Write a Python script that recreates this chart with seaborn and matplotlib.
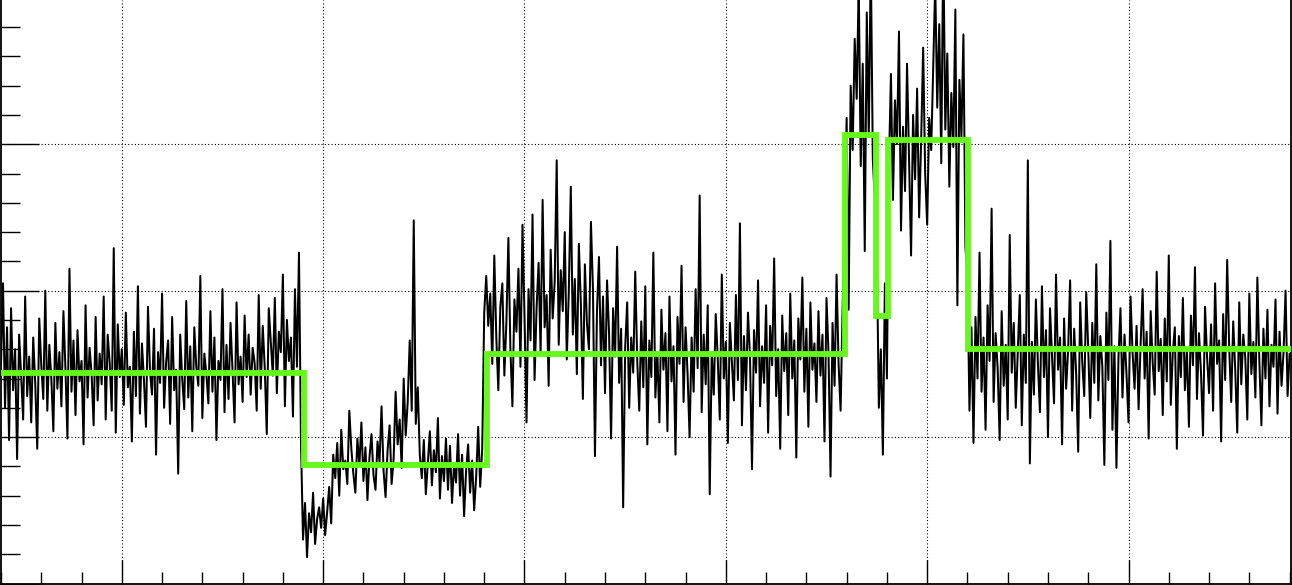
import numpy as np
import matplotlib
matplotlib.use("Agg")
import matplotlib.pyplot as plt
from matplotlib.ticker import MultipleLocator, NullFormatter
import seaborn as sns

# noisy trace, one value per bin, split by the segments of the step fit
seg_a = [150, 205, 120, 175, 98, 188, 132, 160, 85, 170, 142, 112, 196, 128, 155,
         110, 168, 137, 92, 181, 149, 126, 200, 118, 163, 140, 104, 178, 133, 158,
         121, 186, 147, 99, 215, 131, 166, 115, 173, 138, 152, 95, 190, 127, 161,
         143, 108, 182, 125, 157, 136, 196, 112, 170, 150, 118, 229, 103, 177, 141,
         160, 122, 185, 134, 148, 97, 172, 128, 203, 116, 164, 139, 107, 189, 145,
         129, 174, 88, 158, 137, 198, 120, 151, 166, 109, 182, 132, 146, 75, 170,
         140, 119, 193, 127, 162, 104, 175, 148, 135, 210, 113, 157, 143, 123, 186,
         131, 168, 98, 152, 139, 201, 117, 163, 126, 178, 145, 110, 192, 136, 155,
         124, 183, 141, 170, 129, 161, 150, 118, 197, 133, 176, 147, 102, 188, 165,
         142, 195, 130, 172, 158, 211, 121, 180, 152, 168, 114, 201, 148, 226, 96]
seg_b = [30, 55, 18, 48, 35, 62, 27, 44, 52, 38, 58, 33, 49, 66, 41,
         88, 72, 96, 60, 105, 78, 84, 68, 118, 92, 75, 62, 99, 81, 110,
         70, 93, 57, 86, 102, 74, 64, 97, 83, 121, 77, 59, 91, 108, 68,
         85, 131, 95, 112, 79, 140, 101, 124, 166, 118, 248, 109, 134, 88, 72,
         98, 61, 83, 104, 67, 91, 76, 113, 58, 87, 70, 99, 64, 94, 55,
         81, 69, 102, 60, 88, 46, 77, 95, 62, 84, 50, 73, 107, 66, 92,
         185]
seg_c = [210, 176, 198, 150, 224, 168, 132, 189, 205, 142, 178, 236, 160, 121, 194,
         172, 215, 148, 245, 183, 110, 201, 166, 252, 139, 188, 219, 157, 262, 175,
         197, 135, 228, 181, 206, 289, 163, 214, 186, 240, 153, 199, 271, 170, 208,
         143, 232, 191, 126, 218, 178, 160, 247, 201, 87, 186, 223, 149, 196, 130,
         207, 171, 99, 188, 155, 230, 137, 174, 52, 161, 192, 120, 168, 144, 213,
         152, 118, 179, 134, 203, 95, 166, 141, 226, 127, 158, 110, 187, 146, 171,
         104, 196, 138, 162, 88, 182, 150, 217, 124, 175, 143, 100, 168, 131, 201,
         147, 265, 117, 170, 136, 190, 61, 158, 129, 184, 153, 112, 211, 140, 165,
         96, 178, 151, 125, 197, 139, 246, 108, 169, 132, 185, 155, 78, 173, 144,
         207, 121, 162, 137, 190, 103, 176, 149, 222, 128, 160, 92, 183, 145, 171,
         115, 198, 140, 166, 86, 181, 153, 209, 131, 174, 107, 192, 146, 164, 124,
         186, 142, 170, 97, 195, 157, 73, 178, 135, 211, 150, 118, 188]
seg_d = [250, 318, 187, 340, 296, 372, 331, 410, 285, 355, 227, 390, 305, 428, 290, 262]
seg_e = [225, 120, 160, 88, 205, 140]
seg_f = [285, 348, 262, 330, 300, 377, 241, 312, 268, 355, 290, 224, 320, 276, 338,
         250, 302, 366, 280, 245, 318, 296, 352, 410, 325, 382, 287, 440, 310, 362,
         271, 335, 298, 392, 190, 344, 305, 375, 230]
seg_g = [210, 118, 175, 96, 182, 140, 226, 131, 168, 105, 190, 152, 256, 124, 171,
         147, 98, 186, 135, 163, 112, 238, 144, 178, 120, 159, 197, 108, 170, 137,
         289, 82, 165, 129, 194, 150, 117, 203, 141, 173, 100, 188, 156, 123, 211,
         146, 168, 95, 181, 133, 159, 207, 118, 174, 143, 90, 192, 152, 128, 199,
         160, 113, 178, 137, 218, 125, 169, 148, 81, 185, 139, 234, 105, 162, 79,
         154, 188, 127, 170, 143, 110, 196, 158, 133, 176, 119, 163, 201, 140, 172,
         99, 186, 151, 129, 213, 145, 167, 115, 181, 138, 224, 122, 158, 175, 92,
         169, 141, 195, 132, 160, 107, 183, 149, 216, 126, 171, 144, 101, 189, 155,
         130, 177, 118, 205, 150, 166, 97, 184, 139, 221, 161, 124, 179, 146, 103,
         192, 136, 170, 154, 112, 198, 143, 165, 127, 209, 151, 108, 174, 140, 187,
         121, 163, 148, 194, 116, 172, 135, 158, 200, 128, 157]

# step fit: segment edges and levels
step_edges = [0, 150.4, 241.2, 419.4, 434.7, 440.7, 480.4, 640.7]
step_levels = [144, 81, 157, 306, 183, 303, 160]

signal = np.array(seg_a + seg_b + seg_c + seg_d + seg_e + seg_f + seg_g, dtype=float)
bins = np.arange(len(signal))

sns.set_style("white")
fig = plt.figure(figsize=(12.92, 5.85), dpi=100)
ax = fig.add_axes([1 / 1292, 1.5 / 585, 1290 / 1292, 583.5 / 585])

sns.lineplot(x=bins, y=signal, color="black", linewidth=1.45,
             estimator=None, sort=False, ax=ax)
ax.stairs(step_levels, step_edges, color="#66f81a", linewidth=4.2,
          baseline=None, zorder=5)

ax.set_xlim(0, 640.7)
ax.set_ylim(0, 398.5)

ax.xaxis.set_major_locator(MultipleLocator(100, offset=60))
ax.xaxis.set_minor_locator(MultipleLocator(20))
ax.yaxis.set_major_locator(MultipleLocator(100))
ax.yaxis.set_minor_locator(MultipleLocator(20))
ax.xaxis.set_major_formatter(NullFormatter())
ax.yaxis.set_major_formatter(NullFormatter())

ax.tick_params(axis="x", which="major", direction="in", length=17, width=1, color="black")
ax.tick_params(axis="x", which="minor", direction="in", length=8.6, width=1, color="black")
ax.tick_params(axis="y", which="major", direction="in", length=27, width=1, color="black")
ax.tick_params(axis="y", which="minor", direction="in", length=13.5, width=1, color="black")
ax.tick_params(top=False, right=False, bottom=True, left=True, which="both")

ax.grid(True, which="major", color="black", linestyle=(0, (1, 2)), linewidth=0.8)
ax.set_axisbelow(True)

ax.spines["top"].set_visible(False)
for s in ["left", "bottom", "right"]:
    ax.spines[s].set_color("black")
    ax.spines[s].set_linewidth(1.3)

ax.set_xlabel("")
ax.set_ylabel("")

fig.savefig("out.png", dpi=100)
